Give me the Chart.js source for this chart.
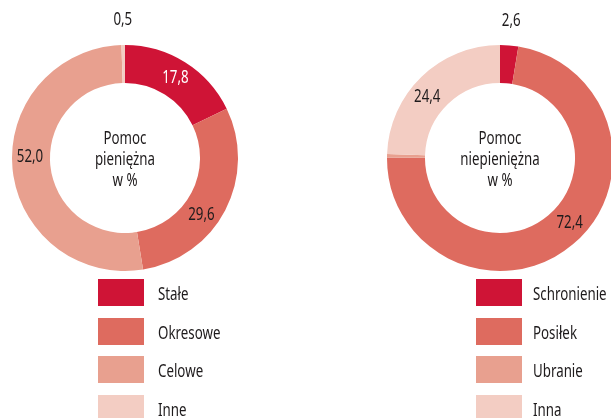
<!DOCTYPE html>
<html>
<head>
<meta charset="utf-8">
<script src="https://cdn.jsdelivr.net/npm/chart.js@4"></script>
<style>
  html, body { margin: 0; padding: 0; background: #fff; }
  body { width: 611px; height: 418px; position: relative; overflow: hidden;
         font-family: "Noto Sans", sans-serif; color: #1e1b1c; }
  canvas { position: absolute; top: 0; }
  #chartLeft { left: 0; }
  #chartRight { left: 375px; }
  .legend { position: absolute; top: 279px; margin: 0; padding: 0; list-style: none; }
  .legend li { height: 27px; margin-bottom: 11.5px; display: flex; align-items: center; font-size: 18.5px; white-space: nowrap; }
  .legend .sw { width: 46px; height: 27px; flex: none; }
  .legend .tx { display: inline-block; transform: scaleX(0.72); transform-origin: 0 50%; }
  #legendLeft { left: 98px; }
  #legendLeft .sw { margin-right: 14px; }
  #legendRight { left: 476px; }
  #legendRight .sw { margin-right: 11px; }
</style>
</head>
<body>
<canvas id="chartLeft" width="250" height="316"></canvas>
<canvas id="chartRight" width="250" height="316"></canvas>
<ul class="legend" id="legendLeft"></ul>
<ul class="legend" id="legendRight"></ul>
<script>
// pomoc pieniężna (%)
const cashLabels = ['Stałe', 'Okresowe', 'Celowe', 'Inne'];
const cashValues = [17.8, 29.6, 52.0, 0.5];
// pomoc niepieniężna (%)
const kindLabels = ['Schronienie', 'Posiłek', 'Ubranie', 'Inna'];
const kindValues = [2.6, 72.4, 0.5, 24.4];

const palette = ['#cf1436', '#de6b5f', '#e8a08f', '#f3cdc3'];
const labelColors = ['#ffffff', '#1e1b1c', '#1e1b1c', '#1e1b1c'];
const font = '18.5px "Noto Sans", sans-serif';
const squeeze = 0.72;

// narrow text: the original uses a condensed face
function narrowText(ctx, t, x, y) {
  ctx.save();
  ctx.translate(x, y);
  ctx.scale(squeeze, 1);
  ctx.fillText(t, 0, 0);
  ctx.restore();
}

// value labels: inside the ring, or outside for tiny slices
const valueLabels = {
  id: 'valueLabels',
  afterDatasetsDraw(chart, args, opts) {
    const ctx = chart.ctx;
    const meta = chart.getDatasetMeta(0);
    const data = chart.data.datasets[0].data;
    const nudge = opts.nudge || [];
    ctx.save();
    ctx.font = font;
    ctx.textAlign = 'center';
    ctx.textBaseline = 'middle';
    meta.data.forEach((arc, i) => {
      const p = arc.getProps(['x', 'y', 'startAngle', 'endAngle', 'innerRadius', 'outerRadius']);
      const mid = (p.startAngle + p.endAngle) / 2 + (nudge[i] || 0) * Math.PI / 180;
      const small = data[i] < 3;
      const r = small ? p.outerRadius + 25 : (p.innerRadius + p.outerRadius) / 2 + 1;
      ctx.fillStyle = small ? '#1e1b1c' : labelColors[i];
      narrowText(ctx, data[i].toFixed(1).replace('.', ','), p.x + Math.cos(mid) * r, p.y + Math.sin(mid) * r);
    });
    ctx.restore();
  }
};

const centerText = {
  id: 'centerText',
  afterDraw(chart, args, opts) {
    const ctx = chart.ctx;
    const arc = chart.getDatasetMeta(0).data[0];
    ctx.save();
    ctx.font = font;
    ctx.fillStyle = '#1e1b1c';
    ctx.textAlign = 'center';
    ctx.textBaseline = 'middle';
    opts.lines.forEach((t, i) => {
      narrowText(ctx, t, arc.x, arc.y - 19 + i * 21);
    });
    ctx.restore();
  }
};

function makeDonut(id, labels, values, lines, nudge) {
  return new Chart(document.getElementById(id), {
    type: 'doughnut',
    data: {
      labels: labels,
      datasets: [{ data: values, backgroundColor: palette, borderWidth: 0 }]
    },
    options: {
      responsive: false,
      animation: false,
      cutout: '66.4%',
      layout: { padding: { left: 12, right: 12, top: 45, bottom: 45 } },
      plugins: {
        legend: { display: false },
        tooltip: { enabled: false },
        centerText: { lines: lines },
        valueLabels: { nudge: nudge }
      }
    },
    plugins: [valueLabels, centerText]
  });
}

function makeLegend(id, labels) {
  const ul = document.getElementById(id);
  labels.forEach((l, i) => {
    const li = document.createElement('li');
    const sw = document.createElement('span');
    sw.className = 'sw';
    sw.style.background = palette[i];
    const tx = document.createElement('span');
    tx.className = 'tx';
    tx.textContent = l;
    li.appendChild(sw);
    li.appendChild(tx);
    ul.appendChild(li);
  });
}

// label angle nudges (degrees) to sit where the original put them
makeDonut('chartLeft', cashLabels, cashValues, ['Pomoc', 'pieniężna', 'w %'], [0, 9, 6, 0]);
makeDonut('chartRight', kindLabels, kindValues, ['Pomoc', 'niepieniężna', 'w %'], [0, -7, 0, -6]);
makeLegend('legendLeft', cashLabels);
makeLegend('legendRight', kindLabels);
</script>
</body>
</html>
